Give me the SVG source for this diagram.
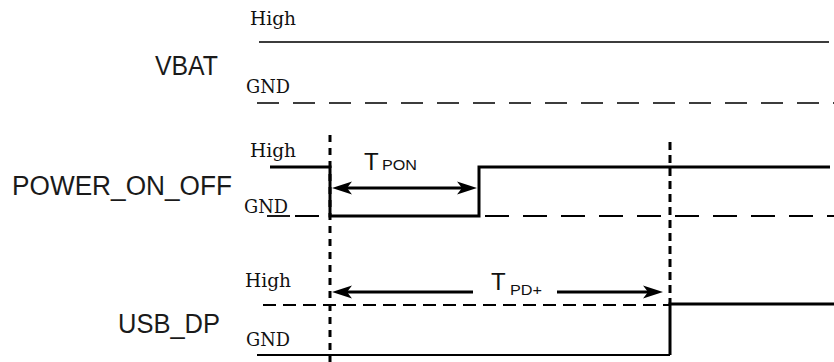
<svg xmlns="http://www.w3.org/2000/svg" width="834" height="362" viewBox="0 0 834 362">
<style>
.lbl{font-family:"Liberation Sans",Arial,sans-serif;font-size:27px;fill:#1a1a1a;}
.lvl{font-family:"DejaVu Serif","Liberation Serif",serif;font-size:18px;fill:#111;}
.tm{font-family:"Liberation Sans",Arial,sans-serif;font-size:24px;fill:#111;}
.sub{font-family:"Liberation Sans",Arial,sans-serif;font-size:15px;fill:#111;}
.sig{fill:none;stroke:#000;stroke-width:3;}
.vb{fill:none;stroke:#3c3c3c;stroke-width:2;}
.thin{fill:none;stroke:#000;stroke-width:1.8;}
.mark{fill:none;stroke:#000;stroke-width:3;}
.arr{fill:none;stroke:#000;stroke-width:2.8;}
</style>
<defs>
<marker id="ah" markerUnits="userSpaceOnUse" markerWidth="22" markerHeight="16" viewBox="0 -8 22 16" refX="5" refY="0" orient="auto-start-reverse">
<path d="M0,-6.5 L20,0 L0,6.5 L5,0 Z" fill="#000"/>
</marker>
</defs>
<rect width="834" height="362" fill="#fff"/>

<g id="vbat">
<text class="lbl" x="155" y="75" textLength="63" lengthAdjust="spacingAndGlyphs">VBAT</text>
<text class="lvl" x="250" y="25" textLength="46" lengthAdjust="spacingAndGlyphs">High</text>
<text class="lvl" x="246" y="93" textLength="44" lengthAdjust="spacingAndGlyphs">GND</text>
<line class="vb" x1="259" y1="42" x2="829" y2="42"/>
<line class="vb" x1="257" y1="103" x2="834" y2="103" stroke-dasharray="22 14"/>
</g>

<g id="power_on_off">
<text class="lbl" x="12" y="195" textLength="220" lengthAdjust="spacingAndGlyphs">POWER_ON_OFF</text>
<text class="lvl" x="250" y="157" textLength="46" lengthAdjust="spacingAndGlyphs">High</text>
<text class="lvl" x="244" y="213" textLength="44" lengthAdjust="spacingAndGlyphs">GND</text>
<line class="thin" x1="267" y1="216" x2="290" y2="216"/>
<line class="thin" x1="295" y1="216" x2="834" y2="216" stroke-dasharray="24 14"/>
<polyline class="sig" points="270,167 330,167 330,216 479,216 479,167 830,167"/>
</g>

<g id="usb_dp">
<text class="lbl" x="118" y="333" textLength="102" lengthAdjust="spacingAndGlyphs">USB_DP</text>
<text class="lvl" x="245" y="287" textLength="46" lengthAdjust="spacingAndGlyphs">High</text>
<text class="lvl" x="246" y="346" textLength="44" lengthAdjust="spacingAndGlyphs">GND</text>
<line class="thin" x1="263" y1="305" x2="670" y2="305" stroke-dasharray="13 7"/>
<line class="thin" x1="257" y1="355" x2="670" y2="355"/>
<polyline class="sig" points="670,355 670,304 834,304"/>
</g>

<g id="markers">
<line class="mark" x1="330" y1="135" x2="330" y2="362" stroke-dasharray="7 6"/>
<line class="mark" x1="670" y1="142" x2="670" y2="304" stroke-dasharray="8 5"/>
</g>

<g id="connectors">
<line class="arr" x1="347" y1="188" x2="462" y2="188" marker-start="url(#ah)" marker-end="url(#ah)"/>
<line class="arr" x1="347" y1="292" x2="473" y2="292" marker-start="url(#ah)"/>
<line class="arr" x1="557" y1="292" x2="648" y2="292" marker-end="url(#ah)"/>
</g>

<g id="tpon">
<text class="tm" x="364" y="170">T</text>
<text class="sub" x="382" y="170" textLength="35" lengthAdjust="spacingAndGlyphs">PON</text>
</g>
<g id="tpd">
<text class="tm" x="491" y="290">T</text>
<text class="sub" x="510" y="295" textLength="32" lengthAdjust="spacingAndGlyphs">PD+</text>
</g>
</svg>
